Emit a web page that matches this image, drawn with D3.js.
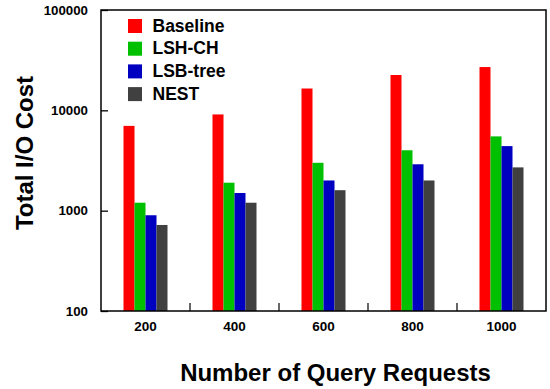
<!DOCTYPE html>
<html>
<head>
<meta charset="utf-8">
<script src="https://cdn.jsdelivr.net/npm/d3@7/dist/d3.min.js"></script>
<style>
  html, body { margin: 0; padding: 0; background: #fff; }
  svg { display: block; font-family: "Liberation Sans", Arial, Helvetica, sans-serif; font-weight: bold; }
</style>
</head>
<body>
<svg id="chart" width="550" height="389"></svg>
<script>
// Query counts on the x axis
const categories = ["200", "400", "600", "800", "1000"];
// Methods compared
const seriesNames = ["Baseline", "LSH-CH", "LSB-tree", "NEST"];
const seriesColors = ["#ff0000", "#00c000", "#0000c0", "#404040"];
// Total I/O cost per method, one value per query count
const baseline = [7000, 9100, 16500, 22500, 27000];
const lshCh    = [1200, 1900, 3000, 4000, 5500];
const lsbTree  = [900, 1500, 2000, 2900, 4400];
const nest     = [720, 1200, 1600, 2000, 2700];
const yTicks = [100, 1000, 10000, 100000];

const seriesValues = [baseline, lshCh, lsbTree, nest];

const svg = d3.select("#chart");
const plotLeft = 101, plotRight = 546, plotTop = 10, plotBottom = 311;

const x0 = d3.scaleBand().domain(categories).range([plotLeft, plotRight]).paddingInner(0).paddingOuter(0);
const bw = x0.bandwidth();
const groupW = 44;
const x1 = d3.scaleBand().domain(seriesNames).range([(bw - groupW) / 2, (bw + groupW) / 2]).padding(0);
const y = d3.scaleLog().domain([100, 100000]).range([plotBottom, plotTop]);

// Bars
const groups = svg.append("g").selectAll("g")
  .data(categories)
  .join("g")
  .attr("transform", d => `translate(${x0(d)},0)`);

groups.selectAll("rect")
  .data((c, i) => seriesNames.map((s, j) => ({ s, j, v: seriesValues[j][i] })))
  .join("rect")
  .attr("x", d => x1(d.s))
  .attr("width", x1.bandwidth())
  .attr("y", d => y(d.v))
  .attr("height", d => plotBottom - y(d.v))
  .attr("fill", d => seriesColors[d.j]);

// Y axis (ticks point inward)
const yAxis = svg.append("g")
  .attr("transform", `translate(${plotLeft},0)`)
  .call(d3.axisLeft(y).tickValues(yTicks).tickFormat(d3.format("d")).tickSize(-7).tickPadding(13));
yAxis.select(".domain").remove();
yAxis.selectAll(".tick line").attr("stroke", "#000").attr("stroke-width", 1.3);
yAxis.selectAll(".tick text")
  .attr("fill", "#000")
  .style("font-size", "13.3px")
  .style("font-weight", "bold")
  .style("font-family", "Liberation Sans, Arial, sans-serif");

// X axis labels
const xAxis = svg.append("g")
  .attr("transform", `translate(0,${plotBottom})`)
  .call(d3.axisBottom(x0).tickSize(0).tickPadding(10));
xAxis.select(".domain").remove();
xAxis.selectAll(".tick text")
  .attr("fill", "#000")
  .style("font-size", "13.5px")
  .style("font-weight", "bold")
  .style("font-family", "Liberation Sans, Arial, sans-serif");

// Separators between category groups
svg.append("g").selectAll("line")
  .data(categories.slice(1))
  .join("line")
  .attr("x1", d => x0(d)).attr("x2", d => x0(d))
  .attr("y1", plotBottom).attr("y2", plotBottom - 8)
  .attr("stroke", "#000").attr("stroke-width", 1.2);

// Frame
svg.append("rect")
  .attr("x", plotLeft).attr("y", plotTop)
  .attr("width", plotRight - plotLeft).attr("height", plotBottom - plotTop)
  .attr("fill", "none").attr("stroke", "#000").attr("stroke-width", 1.5);

// Axis titles
svg.append("text")
  .attr("x", 335.5).attr("y", 381)
  .attr("text-anchor", "middle")
  .style("font-size", "24px")
  .text("Number of Query Requests");

svg.append("text")
  .attr("transform", "translate(33,153) rotate(-90)")
  .attr("text-anchor", "middle")
  .style("font-size", "24px")
  .text("Total I/O Cost");

// Legend
const legend = svg.append("g").selectAll("g")
  .data(seriesNames)
  .join("g")
  .attr("transform", (d, i) => `translate(128,${19 + i * 22.7})`);
legend.append("rect")
  .attr("width", 14).attr("height", 14)
  .attr("fill", (d, i) => seriesColors[i]);
legend.append("text")
  .attr("x", 24.5).attr("y", 12.7)
  .style("font-size", "17.5px")
  .text(d => d);
</script>
</body>
</html>
